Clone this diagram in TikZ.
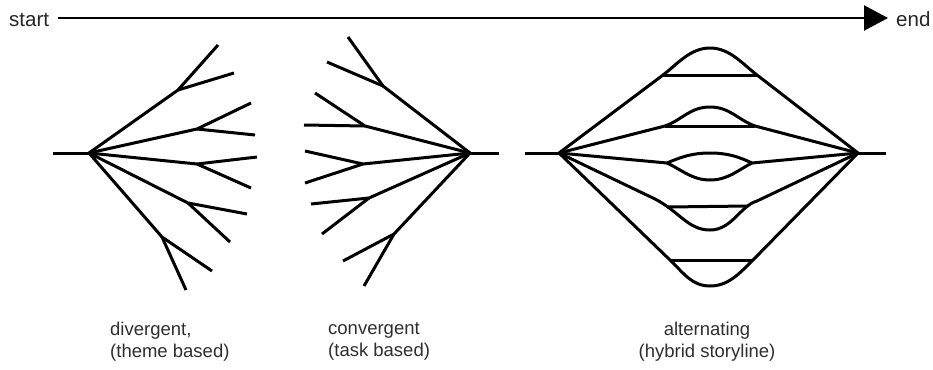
\documentclass[tikz,border=0pt]{standalone}
\usepackage{fontspec}
\setmainfont{Liberation Sans}
\usetikzlibrary{arrows.meta}
\begin{document}
\begin{tikzpicture}[x=1pt,y=-1pt,
  branch/.style={line width=3pt, line join=round, line cap=butt, color=black},
  lbl/.style={inner sep=0pt, align=left, font=\fontsize{18.5}{22}\selectfont, text=black!82},
  endlbl/.style={inner sep=0pt, font=\fontsize{20.5}{24}\selectfont, text=black!85}]
\useasboundingbox (0,0) rectangle (933,369);
% timeline
\node[endlbl, anchor=base west] (start) at (9,27) {start};
\node[endlbl, anchor=base west] (end) at (896,27) {end};
\coordinate (tl0) at (58,18);
\coordinate (tl1) at (888,18);
\draw[line width=2.3pt, -{Triangle[length=24pt,width=25pt]}] (tl0) -- (tl1);

% divergent
\coordinate (d0) at (53,153);
\coordinate (dh) at (89,153);
\coordinate (df1) at (178,90);  \coordinate (de1a) at (218,45);  \coordinate (de1b) at (234,73);
\coordinate (df2) at (197,129); \coordinate (de2a) at (251,103); \coordinate (de2b) at (255,135);
\coordinate (df3) at (197,164); \coordinate (de3a) at (257,157); \coordinate (de3b) at (251,188);
\coordinate (df4) at (188,203); \coordinate (de4a) at (247,214); \coordinate (de4b) at (230,242);
\coordinate (df5) at (162,237); \coordinate (de5a) at (212,271); \coordinate (de5b) at (186,290);
\draw[branch] (d0) -- (dh);
\foreach \i in {1,...,5}{
  \draw[branch] (dh) -- (df\i) -- (de\i a);
  \draw[branch] (df\i) -- (de\i b);
}

% convergent
\coordinate (c0) at (499,153);
\coordinate (ch) at (470,153);
\coordinate (cf1) at (383,86);  \coordinate (ce1a) at (348,37);  \coordinate (ce1b) at (327,62);
\coordinate (cf2) at (365,126); \coordinate (ce2a) at (315,93);  \coordinate (ce2b) at (304,125);
\coordinate (cf3) at (363,164); \coordinate (ce3a) at (305,151); \coordinate (ce3b) at (305,183);
\coordinate (cf4) at (369,198); \coordinate (ce4a) at (311,204); \coordinate (ce4b) at (322,234);
\coordinate (cf5) at (394,234); \coordinate (ce5a) at (343,261); \coordinate (ce5b) at (364,286);
\draw[branch] (c0) -- (ch);
\foreach \i in {1,...,5}{
  \draw[branch] (ch) -- (cf\i) -- (ce\i a);
  \draw[branch] (cf\i) -- (ce\i b);
}

% alternating
\coordinate (a0) at (525,153);
\coordinate (al) at (559,153);
\coordinate (ar) at (858,153);
\coordinate (a1) at (886,153);
\draw[branch] (a0) -- (al);
\draw[branch] (ar) -- (a1);
% top outer
\coordinate (t1l) at (663,75); \coordinate (t1r) at (757,75);
\draw[branch] (al) -- (t1l) .. controls (677,64.5) and (690,48) .. (710,48)
  .. controls (730,48) and (743,64.5) .. (t1r) -- (ar);
\draw[branch] (t1l) -- (t1r);
% second
\coordinate (t2l) at (665,126); \coordinate (t2r) at (755,126);
\draw[branch] (al) -- (t2l) .. controls (682,120) and (690,107) .. (710,107)
  .. controls (730,107) and (738,120) .. (t2r) -- (ar);
\draw[branch] (t2l) -- (t2r);
% middle lens
\coordinate (mL) at (667,163); \coordinate (mR) at (752,163);
\draw[branch] (al) -- (mL) .. controls (681,157) and (692,153) .. (710,153)
  .. controls (728,153) and (739,157) .. (mR) -- (ar);
\draw[branch] (mL) .. controls (682,170) and (692,180) .. (710,180)
  .. controls (728,180) and (738,170) .. (mR);
% fourth
\coordinate (b1l) at (655,199); \coordinate (b1r) at (757,201);
\coordinate (h4l) at (668,207); \coordinate (h4r) at (748,206);
\draw[branch] (al) -- (b1l) .. controls (680,212) and (688,230) .. (710,230)
  .. controls (732,230) and (740,206) .. (b1r) -- (ar);
\draw[branch] (h4l) -- (h4r);
% bottom outer
\coordinate (b2l) at (670,260); \coordinate (b2r) at (753,260);
\draw[branch] (al) -- (b2l) .. controls (684,273.5) and (692,286) .. (710,286)
  .. controls (728,286) and (739,274) .. (b2r) -- (ar);
\draw[branch] (b2l) -- (b2r);

% labels
\node[lbl, anchor=north west] (ldiv) at (110,322) {divergent,\\(theme based)};
\node[lbl, anchor=north west] (lcon) at (328,322) {convergent\\(task based)};
\node[lbl, align=center, anchor=north] (lalt) at (707,322) {alternating\\(hybrid storyline)};
\end{tikzpicture}
\end{document}
